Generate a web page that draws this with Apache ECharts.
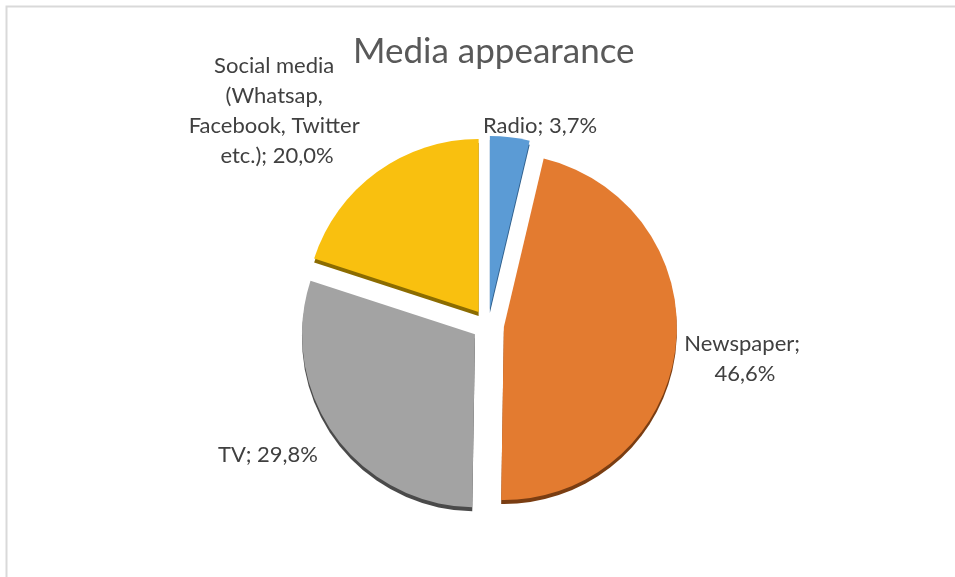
<!DOCTYPE html>
<html>
<head>
<meta charset="utf-8">
<script src="https://cdn.jsdelivr.net/npm/echarts@6/dist/echarts.min.js"></script>
<style>html,body{margin:0;padding:0;background:#fff;}#c{width:955px;height:577px;}</style>
</head>
<body>
<div id="c"></div>
<script>
const categories = ['Radio', 'Newspaper', 'TV', 'Social media (Whatsap, Facebook, Twitter etc.)'];
const values = [3.7, 46.6, 29.8, 20.0];
const topColors = ['#5b9bd5', '#e37b30', '#a3a3a3', '#f9c00f'];
const edgeColors = ['#2f5f8c', '#7a3d12', '#4a4a4a', '#8c6c00'];
const labelWidths = [220, 140, 220, 185];
const labelAnchors = [[540, 126], [745, 359], [268, 455], [277, 111]];

const fmt = p => p.name + '; ' + p.value.toFixed(1).replace('.', ',') + '%';
const radius = 173;
const offset = 16;

const topData = categories.map((c, i) => ({
  name: c, value: values[i], selected: true,
  itemStyle: { color: topColors[i] }
}));
const edgeData = categories.map((c, i) => ({
  name: c, value: values[i], selected: true,
  itemStyle: { color: edgeColors[i] }
}));
const labelData = categories.map((c, i) => ({
  name: c, value: values[i],
  label: { width: labelWidths[i] }
}));

const common = {
  type: 'pie', radius: radius, startAngle: 90, clockwise: true,
  emphasis: { disabled: true }, silent: true
};

const chart = echarts.init(document.getElementById('c'), null, { renderer: 'canvas' });
chart.setOption({
  animation: false,
  backgroundColor: '#fff',
  title: {
    text: 'Media appearance', left: 348, top: 29,
    textStyle: { fontFamily: 'Lato', fontSize: 35, fontWeight: 'normal', color: '#595959' }
  },
  graphic: [{
    type: 'rect', shape: { x: 6.5, y: 6.5, width: 1000, height: 1000 },
    style: { fill: 'none', stroke: '#d9d9d9', lineWidth: 2 }, silent: true, z: -1
  }],
  series: [
    Object.assign({}, common, {
      name: 'edge', center: [488, 329], selectedMode: 'multiple', selectedOffset: offset,
      data: edgeData, label: { show: false }, labelLine: { show: false }, z: 1
    }),
    Object.assign({}, common, {
      name: 'Media appearance', center: [488, 325], selectedMode: 'multiple', selectedOffset: offset,
      data: topData, label: { show: false }, labelLine: { show: false }, z: 2
    }),
    Object.assign({}, common, {
      name: 'labels', center: [488, 325], selectedMode: false,
      data: labelData,
      itemStyle: { color: 'rgba(0,0,0,0)' },
      label: {
        show: true, position: 'outside', formatter: fmt, overflow: 'break',
        fontFamily: 'Lato', fontSize: 22, color: '#404040', lineHeight: 30, align: 'center'
      },
      labelLine: { show: false },
      labelLayout: function (p) {
        const a = labelAnchors[p.dataIndex];
        return { x: a[0], y: a[1], align: 'center', verticalAlign: 'middle' };
      },
      z: 3
    })
  ]
});
</script>
</body>
</html>
